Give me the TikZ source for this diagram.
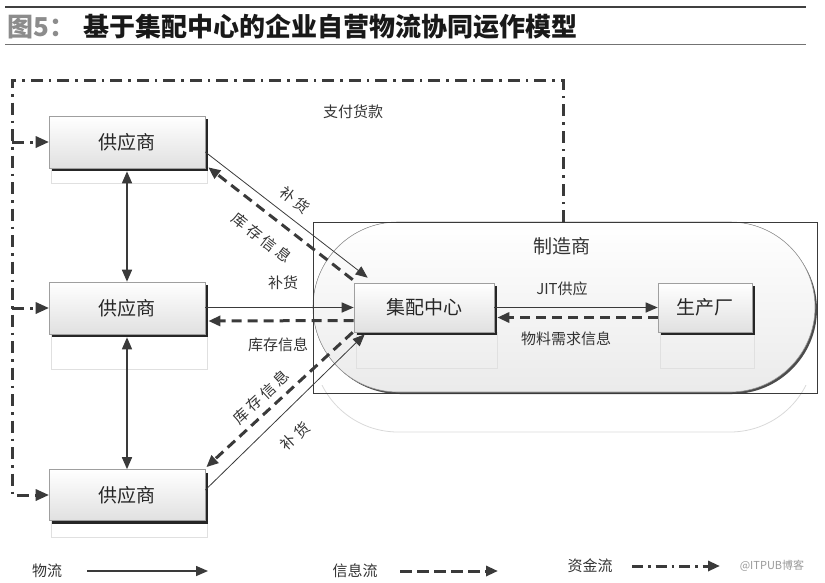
\documentclass[tikz,border=0pt]{standalone}
\usepackage{fontspec}
\newfontfamily\cjk{Noto Sans CJK SC}
\usetikzlibrary{arrows.meta,shadows,calc}
\definecolor{ink}{HTML}{3A3A3A}
\tikzset{
  sbox/.style={draw=gray!75, line width=0.6pt, top color=white, bottom color=black!12,
    inner sep=0pt, font=\cjk\fontsize{19}{19}\selectfont, text=black!85,
    general shadow={shadow xshift=3pt, shadow yshift=-3pt, fill=black!85}},
  refl/.style={draw=black!12, line width=0.6pt},
  lab/.style={font=\cjk\fontsize{15}{15}\selectfont, text=black!80, inner sep=0.5pt},
  tip/.style={-{Triangle[length=12pt,width=10pt]}},
  solid arr/.style={draw=ink, line width=1.5pt, tip},
  thin arr/.style={draw=ink, line width=0.8pt, tip},
  dash arr/.style={draw=ink, line width=3pt, dash pattern=on 10pt off 6pt, tip},
  money/.style={draw=ink, line width=3pt, dash pattern=on 12pt off 6pt on 2.5pt off 6pt},
}
\newcommand\gp{\hspace{3.5pt}}
\begin{document}
\begin{tikzpicture}[x=1pt,y=-1pt]
\useasboundingbox (0,0) rectangle (825,582);
% title
\draw[black!75, line width=1.2pt] (5,7) -- (806,7);
\draw[black!55, line width=0.8pt] (5,44) -- (806,44);
\node[anchor=west, inner sep=0pt, font=\cjk\bfseries\fontsize{26}{26}\selectfont, text=black!45] (t1) at (7,27) {图5：};
\node[anchor=west, inner sep=0pt, font=\cjk\bfseries\fontsize{26}{26}\selectfont, text=black!90] (t2) at (83,27) {基于集配中心的企业自营物流协同运作模型};

% reflections
\draw[refl] (51,168) rectangle (207,183);
\draw[refl] (51,334) rectangle (207,369);
\draw[refl] (51,520) rectangle (207,537);
\begin{scope}
\clip (300,385) rectangle (825,440);
\draw[draw=black!15, line width=0.8pt, rounded corners=85pt] (313,262) rectangle (815,432);
\end{scope}

% manufacturer capsule
\fill[black!70, rounded corners=85pt] (315,225) rectangle (817,394);
\filldraw[draw=gray!80, line width=0.6pt, top color=white, bottom color=black!8, rounded corners=85pt] (313,222) rectangle (815,392);
\draw[ink, line width=0.9pt] (313,222) rectangle (817,393);
\node[lab, font=\cjk\fontsize{19}{19}\selectfont] (mfr) at (562,246) {制造商};

\draw[refl] (356,332) rectangle (497,368);
\draw[refl] (660,332) rectangle (754,368);

% boxes
\node[sbox, minimum width=156pt, minimum height=52pt] (s1) at (127,142) {供应商};
\node[sbox, minimum width=156pt, minimum height=52pt] (s2) at (127,308) {供应商};
\node[sbox, minimum width=156pt, minimum height=51pt] (s3) at (127,495) {供应商};
\node[sbox, minimum width=140pt, minimum height=49pt] (hub) at (424,307.5) {集配中心};
\node[sbox, minimum width=94pt, minimum height=49pt] (plant) at (705,307.5) {生产厂};

% money flow
\coordinate (m0) at (563,222);
\coordinate (m1) at (563,80);
\coordinate (m2) at (12,80);
\coordinate (m3) at (12,495);
\draw[money] (m0) -- (m1) -- (m2) -- (m3) -- ($(s3.west)+(-6,0)$);
\draw[money] (12,142) -- ($(s1.west)+(-6,0)$);
\draw[money] (12,308) -- ($(s2.west)+(-6,0)$);
\foreach \n in {s1,s2,s3}
  \fill[ink] ($(\n.west)+(-13,-6)$) -- (\n.west) -- ($(\n.west)+(-13,6)$) -- cycle;
\node[lab] (pay) at (353,112) {支付货款};

% supplier vertical links
\draw[draw=ink, line width=1.5pt, {Triangle[length=12pt,width=10pt]}-{Triangle[length=12pt,width=10pt]}] ($(s1.south)+(0,3)$) -- (s2.north);
\draw[draw=ink, line width=1.5pt, {Triangle[length=12pt,width=10pt]}-{Triangle[length=12pt,width=10pt]}] ($(s2.south)+(0,3)$) -- (s3.north);

% s1 <-> hub
\draw[thin arr] ($(s1.east)+(0,10)$) -- ($(hub.north west)+(14,-5)$);
\draw[dash arr] ($(hub.north west)+(-1,-3)$) -- ($(s1.south east)+(3,-1)$);
\node[lab, rotate=-38] (l1) at (295,200) {补\gp 货};
\node[lab, rotate=-38] (l2) at (262,238) {库\gp 存\gp 信\gp 息};

% s2 <-> hub
\draw[solid arr] (s2.east |- hub.west) -- (hub.west);
\draw[dash arr] ($(hub.west)+(0,13)$) -- ($(s2.east)+(3,13)$);
\node[lab] (l3) at (283,283) {补货};
\node[lab] (l4) at (278,345) {库存信息};

% s3 <-> hub
\draw[dash arr] ($(hub.south west)+(-1,0)$) -- ($(s3.north east)+(1,-2)$);
\draw[thin arr] ($(s3.east)+(0,-5)$) -- ($(hub.south west)+(11,2)$);
\node[lab, rotate=43] (l5) at (261,397) {库\gp 存\gp 信\gp 息};
\node[lab, rotate=43] (l6) at (295,436) {补\gp 货};

% hub <-> plant
\draw[solid arr] (hub.east) -- (plant.west);
\draw[dash arr] ($(plant.west)+(0,10)$) -- ($(hub.east)+(3,10)$);
\node[lab] (jit) at (562,289) {JIT供应};
\node[lab] (req) at (566,339) {物料需求信息};

% legend
\node[lab] (lg1) at (47,571) {物流};
\coordinate (a1) at (87,571); \coordinate (a2) at (208,571);
\draw[solid arr] (a1) -- (a2);
\node[lab] (lg2) at (355,571) {信息流};
\coordinate (b1) at (400,571); \coordinate (b2) at (498,571);
\draw[dash arr, dash pattern=on 12pt off 5pt] (b1) -- (b2);
\node[lab] (lg3) at (590,566) {资金流};
\coordinate (c1) at (632,566); \coordinate (c2) at (720,566);
\draw[money, dash pattern=on 11pt off 5pt on 2.5pt off 5pt, tip] (c1) -- (c2);
\node[lab, font=\cjk\fontsize{11}{11}\selectfont, text=black!40] (wm) at (772,566) {@ITPUB博客};
\end{tikzpicture}
\end{document}
